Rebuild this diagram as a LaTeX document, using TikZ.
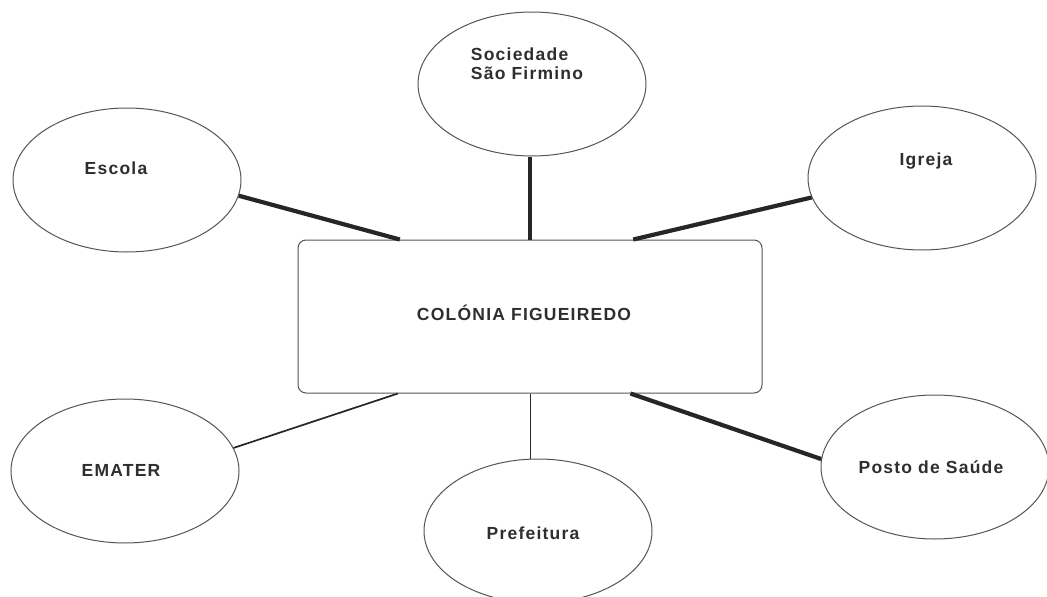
\documentclass[tikz,border=0pt]{standalone}
\usepackage{fontspec}
\newfontfamily\lblfont[LetterSpace=7]{Liberation Sans}
\usetikzlibrary{shapes.geometric,calc}
\definecolor{edge}{HTML}{555555}
\definecolor{ink}{HTML}{2E2E2E}
\definecolor{bar}{HTML}{262626}
\tikzset{
  bubble/.style={draw=edge, line width=1pt, ellipse, minimum width=228pt, minimum height=144pt, inner sep=0pt},
  hub/.style={draw=edge, line width=1pt, rounded corners=8pt, minimum width=464pt, minimum height=153pt, inner sep=0pt},
  lbl/.style={text=ink, inner sep=0pt, font=\lblfont\bfseries\fontsize{17.5}{19}\selectfont},
  heavy/.style={draw=bar, line width=4.2pt},
  medium/.style={draw=bar, line width=1.7pt},
  light/.style={draw=bar, line width=0.9pt}
}
\begin{document}
\begin{tikzpicture}[x=1pt,y=-1pt]
\fill[white] (0,0) rectangle (1047,597);
\useasboundingbox (0,0) rectangle (1047,597);
% hub
\node[hub] (col) at (530,316.5) {};
\node[lbl] (colt) at (524,313) {COLÓNIA FIGUEIREDO};
% bubbles
\node[bubble] (esc) at (127,180) {};
\node[lbl] (esct) at (116,168) {Escola};
\node[bubble] (soc) at (532,84) {};
\node[lbl, align=left] (soct) at (527,64) {Sociedade\\São Firmino};
\node[bubble] (igr) at (922,178) {};
\node[lbl] (igrt) at (926,161) {Igreja};
\node[bubble] (ema) at (125,471) {};
\node[lbl] (emat) at (121,470) {EMATER};
\node[bubble] (pre) at (538,531) {};
\node[lbl] (pret) at (533,533) {Prefeitura};
\node[bubble] (pos) at (935,467) {};
\node[lbl] (post) at (931,467) {Posto de Saúde};
% attachment points on the hub
\coordinate (cEsc) at ($(col.north west)!0.22!(col.north east)$);
\coordinate (cIgr) at ($(col.north west)!0.722!(col.north east)$);
\coordinate (cEma) at ($(col.south west)!0.216!(col.south east)$);
\coordinate (cPos) at ($(col.south west)!0.716!(col.south east)$);
% connectors
\draw[heavy] (esc.-8) -- (cEsc);
\draw[heavy] (col.north) -- (col.north |- soc.south);
\draw[heavy] (igr.190) -- (cIgr);
\draw[medium] (ema.12) -- (cEma);
\draw[light] (col.south) -- (col.south |- pre.north);
\draw[heavy] (pos.176) -- (cPos);
\end{tikzpicture}
\end{document}
